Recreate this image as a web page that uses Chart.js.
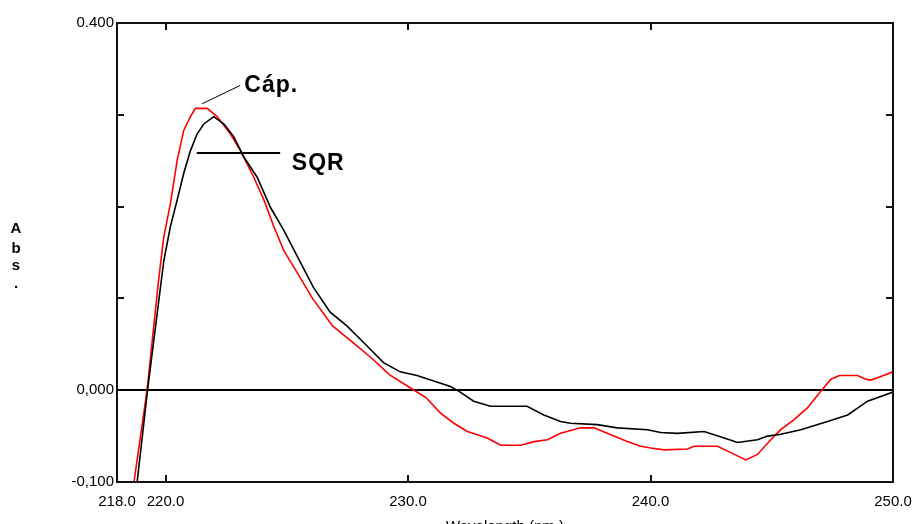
<!DOCTYPE html>
<html>
<head>
<meta charset="utf-8">
<script src="https://cdn.jsdelivr.net/npm/chart.js@4.4.1/dist/chart.umd.min.js"></script>
<style>
  html, body { margin: 0; padding: 0; background: #fff; }
  #wrap { position: relative; width: 912px; height: 524px; overflow: hidden; }
  canvas { display: block; }
</style>
</head>
<body>
<div id="wrap"><canvas id="c" width="912" height="524"></canvas></div>
<script>
// ---- Data ----
const capWavelength = [218.70, 219.24, 219.72, 219.93, 220.20, 220.48, 220.75, 221.03, 221.23, 221.72, 222.13, 222.68, 223.09, 223.64, 224.06, 224.47, 224.88, 225.43, 226.06, 226.89, 227.72, 228.54, 229.23, 230.19, 230.74, 231.34, 231.89, 232.45, 233.27, 233.82, 234.64, 235.20, 235.75, 236.29, 237.12, 237.67, 238.22, 239.04, 239.60, 240.01, 240.56, 241.52, 241.80, 242.76, 243.31, 243.93, 244.41, 244.96, 245.37, 245.92, 246.48, 247.03, 247.44, 247.79, 248.54, 248.82, 249.09, 249.50, 250.00];
const capAbs = [-0.100, 0.000, 0.121, 0.167, 0.203, 0.250, 0.283, 0.298, 0.307, 0.307, 0.298, 0.279, 0.261, 0.232, 0.207, 0.178, 0.152, 0.128, 0.100, 0.070, 0.052, 0.034, 0.017, 0.001, -0.008, -0.025, -0.036, -0.045, -0.052, -0.060, -0.060, -0.056, -0.054, -0.047, -0.041, -0.041, -0.047, -0.056, -0.061, -0.063, -0.065, -0.064, -0.061, -0.061, -0.068, -0.076, -0.070, -0.054, -0.043, -0.032, -0.019, -0.001, 0.012, 0.016, 0.016, 0.0125, 0.011, 0.015, 0.020];

const sqrWavelength = [218.83, 219.26, 219.93, 220.20, 220.48, 220.75, 221.03, 221.30, 221.58, 221.99, 222.41, 222.82, 223.23, 223.78, 224.33, 224.88, 225.43, 226.10, 226.79, 227.48, 228.17, 228.99, 229.68, 230.37, 231.06, 231.75, 232.09, 232.71, 233.40, 234.91, 235.60, 236.29, 236.70, 237.80, 238.63, 239.87, 240.42, 241.11, 242.21, 243.04, 243.59, 244.41, 244.83, 245.37, 246.20, 247.30, 248.13, 248.95, 250.00];
const sqrAbs = [-0.100, 0.000, 0.141, 0.178, 0.207, 0.236, 0.261, 0.279, 0.290, 0.298, 0.290, 0.276, 0.254, 0.232, 0.199, 0.174, 0.146, 0.112, 0.085, 0.070, 0.052, 0.030, 0.020, 0.016, 0.010, 0.004, -0.001, -0.012, -0.0175, -0.0175, -0.027, -0.034, -0.036, -0.0375, -0.041, -0.043, -0.046, -0.047, -0.045, -0.052, -0.057, -0.054, -0.050, -0.048, -0.043, -0.034, -0.027, -0.012, -0.002];

const seriesNames = ['Cáp.', 'SQR'];
const xTickValues = [218, 220, 230, 240, 250];
const xTickLabels = ['218.0', '220.0', '230.0', '240.0', '250.0'];
const xTickMarks = [220, 230, 240];
const yTickValues = [-0.1, 0, 0.4];
const yTickLabels = ['-0,100', '0,000', '0.400'];
const yTickMarks = [0.1, 0.2, 0.3];
const xTitle = 'Wavelength (nm.)';
const yTitleLetters = ['A', 'b', 's', '.'];

// ---- Chart ----
const tickFont = { family: "'Liberation Sans', Arial, sans-serif", size: 15 };

const framePlugin = {
  id: 'frame',
  beforeDatasetsDraw(chart) {
    const { ctx, chartArea: a, scales: { y } } = chart;
    ctx.save();
    ctx.strokeStyle = '#000';
    ctx.lineWidth = 2;
    const zy = Math.round(y.getPixelForValue(0));
    ctx.beginPath();
    ctx.moveTo(a.left, zy);
    ctx.lineTo(a.right, zy);
    ctx.stroke();
    ctx.restore();
  },
  afterDraw(chart) {
    const { ctx, chartArea: a, scales: { x, y } } = chart;
    ctx.save();
    ctx.strokeStyle = '#111';
    ctx.lineWidth = 2;
    ctx.strokeRect(a.left, a.top, a.right - a.left, a.bottom - a.top);
    ctx.beginPath();
    const tl = 7;
    yTickMarks.forEach(v => {
      const py = Math.round(y.getPixelForValue(v));
      ctx.moveTo(a.left, py); ctx.lineTo(a.left + tl, py);
      ctx.moveTo(a.right, py); ctx.lineTo(a.right - tl, py);
    });
    xTickMarks.forEach(v => {
      const px = Math.round(x.getPixelForValue(v));
      ctx.moveTo(px, a.top); ctx.lineTo(px, a.top + tl);
      ctx.moveTo(px, a.bottom); ctx.lineTo(px, a.bottom - tl);
    });
    ctx.stroke();

    // Annotations
    ctx.fillStyle = '#000';
    ctx.strokeStyle = '#000';
    ctx.font = "bold 23px 'Liberation Sans', Arial, sans-serif";
    try { ctx.letterSpacing = '1px'; } catch (e) {}
    ctx.textBaseline = 'alphabetic';
    ctx.textAlign = 'left';
    // Cáp. leader
    ctx.lineWidth = 1;
    ctx.beginPath();
    ctx.moveTo(x.getPixelForValue(221.51), y.getPixelForValue(0.312));
    ctx.lineTo(x.getPixelForValue(223.08), y.getPixelForValue(0.332));
    ctx.stroke();
    ctx.fillText(seriesNames[0], x.getPixelForValue(223.25), y.getPixelForValue(0.325));
    // SQR leader
    ctx.lineWidth = 2;
    ctx.beginPath();
    const sy = Math.round(y.getPixelForValue(0.2584));
    ctx.moveTo(x.getPixelForValue(221.29), sy);
    ctx.lineTo(x.getPixelForValue(224.73), sy);
    ctx.stroke();
    ctx.fillText(seriesNames[1], x.getPixelForValue(225.21), y.getPixelForValue(0.2404));
    try { ctx.letterSpacing = '0px'; } catch (e) {}

    // Axis titles
    ctx.font = "15px 'Liberation Sans', Arial, sans-serif";
    ctx.textAlign = 'center';
    ctx.textBaseline = 'middle';
    ctx.fillText(xTitle, (a.left + a.right) / 2, 527);
    ctx.font = "bold 15px 'Liberation Sans', Arial, sans-serif";
    ctx.textBaseline = 'alphabetic';
    const baselines = [233, 253, 270, 288];
    yTitleLetters.forEach((ch, i) => {
      ctx.fillText(ch, 16, baselines[i]);
    });
    ctx.restore();
  }
};

new Chart(document.getElementById('c'), {
  type: 'line',
  data: {
    datasets: [
      {
        label: seriesNames[1],
        data: sqrWavelength.map((w, i) => ({ x: w, y: sqrAbs[i] })),
        borderColor: '#000000',
        borderWidth: 1.6,
        pointRadius: 0,
        tension: 0,
        fill: false
      },
      {
        label: seriesNames[0],
        data: capWavelength.map((w, i) => ({ x: w, y: capAbs[i] })),
        borderColor: '#ff0000',
        borderWidth: 1.6,
        pointRadius: 0,
        tension: 0,
        fill: false
      }
    ]
  },
  options: {
    responsive: false,
    animation: false,
    devicePixelRatio: 1,
    layout: { autoPadding: false, padding: { left: 0, top: 23, right: 19, bottom: 0 } },
    plugins: { legend: { display: false }, tooltip: { enabled: false }, title: { display: false } },
    scales: {
      x: {
        type: 'linear',
        min: 218, max: 250,
        afterBuildTicks: s => { s.ticks = xTickValues.map(v => ({ value: v })); },
        afterFit: s => { s.height = 42; s.paddingLeft = 0; s.paddingRight = 0; },
        ticks: {
          autoSkip: false, maxRotation: 0, minRotation: 0,
          padding: 11,
          color: '#000',
          font: tickFont,
          callback: v => { const i = xTickValues.indexOf(v); return i >= 0 ? xTickLabels[i] : ''; }
        },
        grid: { display: false, drawTicks: false },
        border: { display: false }
      },
      y: {
        type: 'linear',
        min: -0.1, max: 0.4,
        afterBuildTicks: s => { s.ticks = yTickValues.map(v => ({ value: v })); },
        afterFit: s => { s.width = 117; s.paddingTop = 0; s.paddingBottom = 0; },
        ticks: {
          autoSkip: false,
          padding: 3,
          color: '#000',
          font: tickFont,
          callback: v => { const i = yTickValues.findIndex(t => Math.abs(t - v) < 1e-9); return i >= 0 ? yTickLabels[i] : ''; }
        },
        grid: { display: false, drawTicks: false },
        border: { display: false }
      }
    }
  },
  plugins: [framePlugin]
});
</script>
</body>
</html>
